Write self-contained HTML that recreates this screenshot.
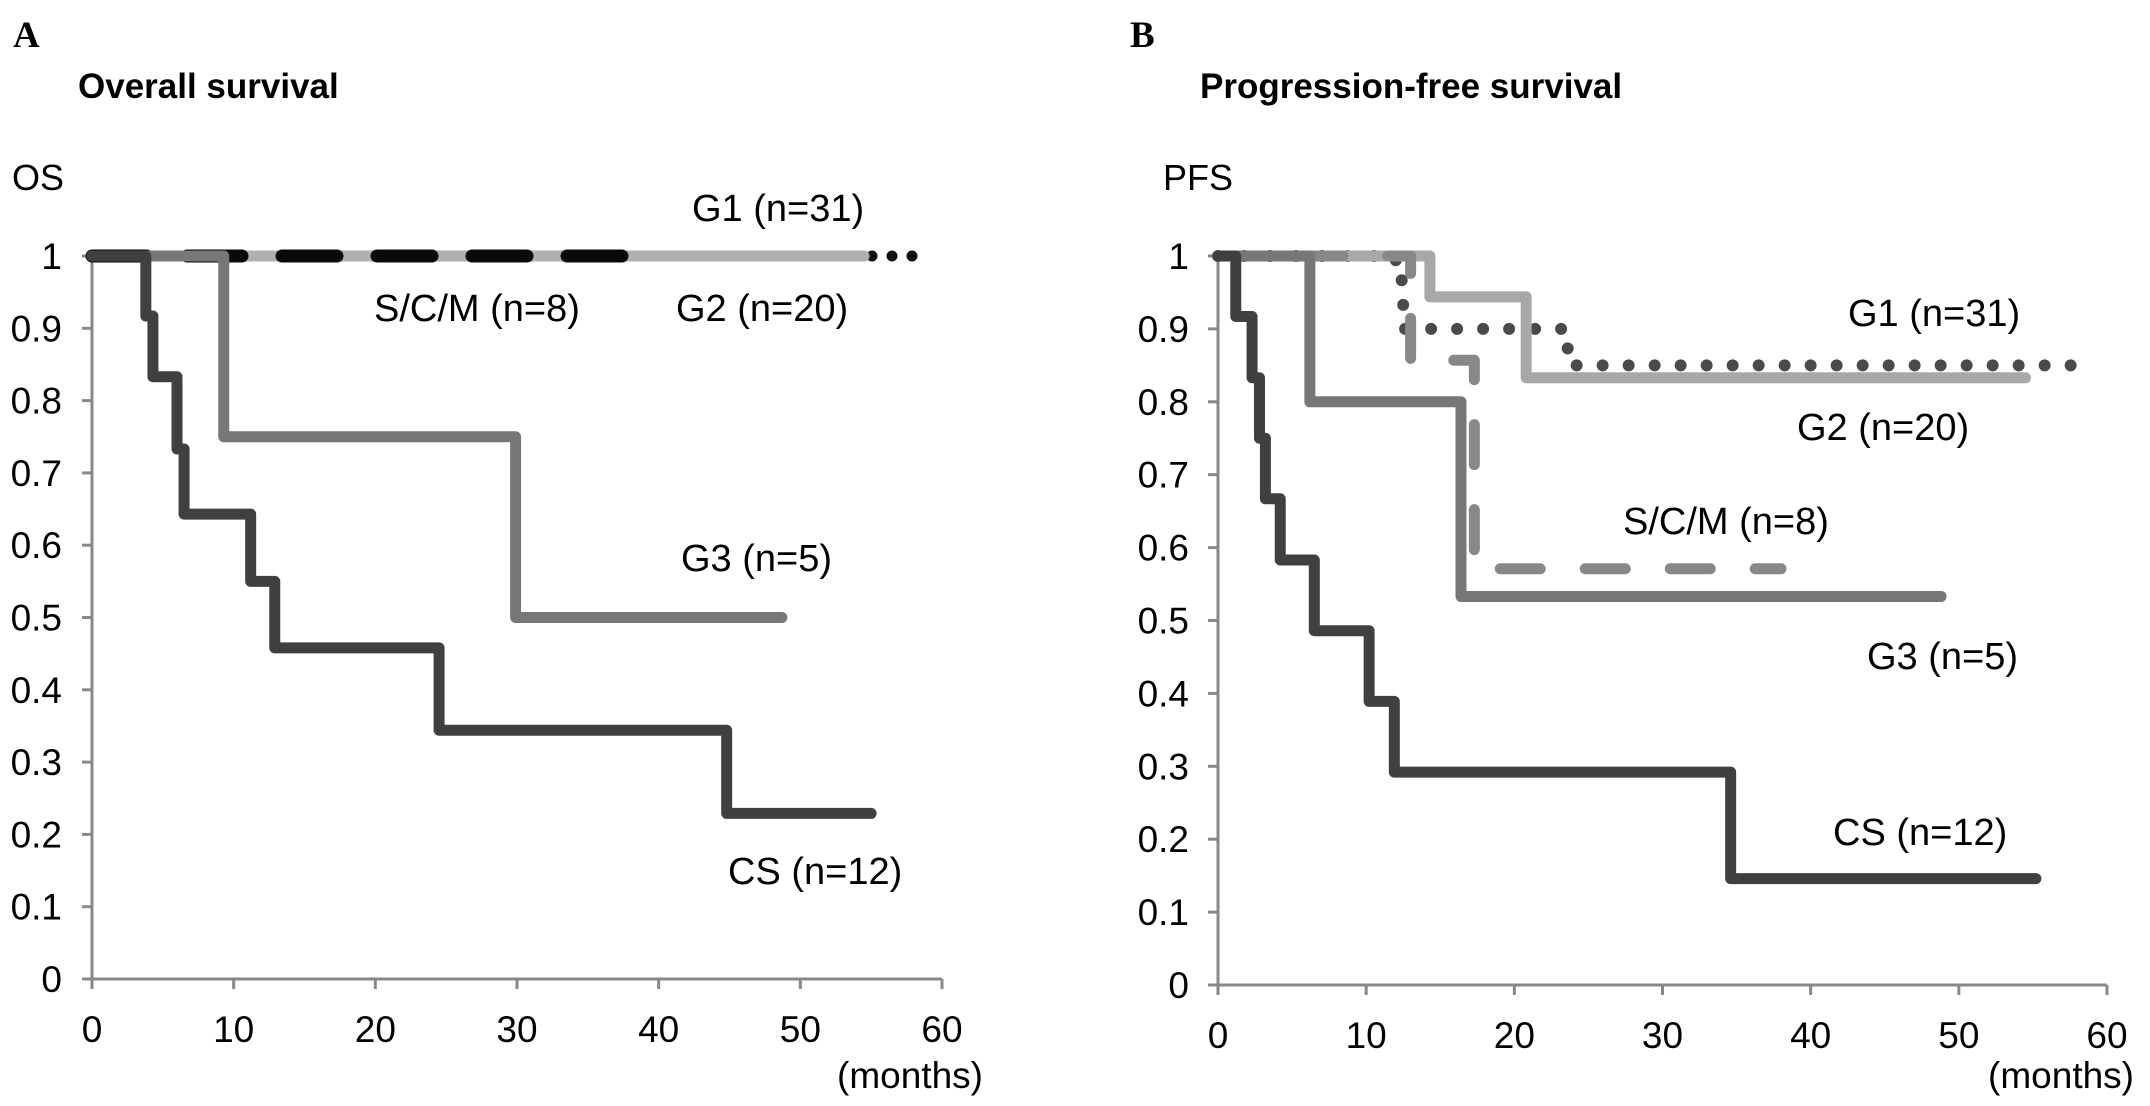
<!DOCTYPE html>
<html><head><meta charset="utf-8">
<style>
html,body{margin:0;padding:0;background:#fff;}
svg{display:block;}
text{font-family:"Liberation Sans",Arial,sans-serif;fill:#000;}
</style></head>
<body>
<svg id="fig" width="2150" height="1106" viewBox="0 0 2150 1106" xmlns="http://www.w3.org/2000/svg">
<text x="13" y="47" style="font-family:'Liberation Serif',serif;font-weight:bold;font-size:37px">A</text>
<text x="78" y="98" style="font-weight:bold;font-size:35px">Overall survival</text>
<text x="12" y="190" style="font-size:36px">OS</text>
<text x="983" y="1088" text-anchor="end" style="font-size:37px">(months)</text>
<text x="1130" y="47" style="font-family:'Liberation Serif',serif;font-weight:bold;font-size:37px">B</text>
<text x="1200" y="98" style="font-weight:bold;font-size:35px">Progression-free survival</text>
<text x="1163" y="190" style="font-size:36px">PFS</text>
<text x="2134" y="1088" text-anchor="end" style="font-size:37px">(months)</text>
</svg>
<script>
// ---- data ----
const xTicks = [0,10,20,30,40,50,60];
const yTicks = [0,0.1,0.2,0.3,0.4,0.5,0.6,0.7,0.8,0.9,1];
const yTickLabels = ["0","0.1","0.2","0.3","0.4","0.5","0.6","0.7","0.8","0.9","1"];

// Overall survival (panel A)
const osCsTimes = [3.8,4.3,6.0,6.5,11.2,12.9,24.5,44.8];
const osCsVals  = [0.917,0.833,0.733,0.643,0.55,0.458,0.344,0.229];
const osCsEnd = 55;
const osG3Times = [9.3,29.9];
const osG3Vals  = [0.75,0.5];
const osG3End = 48.7;
const osG2Times = [];
const osG2Vals = [];
const osG2End = 54.5;
const osScmTimes = [];
const osScmVals = [];
const osScmEnd = 38;
const osG1Times = [];
const osG1Vals = [];
const osG1End = 58;

// Progression-free survival (panel B)
const pfsCsTimes = [1.2,2.3,2.8,3.2,4.2,6.5,10.2,11.9,34.6];
const pfsCsVals  = [0.917,0.833,0.75,0.667,0.583,0.486,0.389,0.292,0.146];
const pfsCsEnd = 55.2;
const pfsG3Times = [6.2,16.4];
const pfsG3Vals  = [0.8,0.533];
const pfsG3End = 48.8;
const pfsScmTimes = [13.0,17.3];
const pfsScmVals  = [0.857,0.571];
const pfsScmEnd = 38;
const pfsG2Times = [14.3,20.8];
const pfsG2Vals  = [0.944,0.833];
const pfsG2End = 54.5;
const pfsG1Times = [12.0,12.4,12.6,23.6];
const pfsG1Vals  = [0.967,0.933,0.9,0.85];
const pfsG1End = 58;

const svg = document.getElementById('fig');
const NS = 'http://www.w3.org/2000/svg';

function makePanel(id, x0, x60, y0, y1, labelRight) {
  const xs = v => x0 + (x60 - x0) * v / 60;
  const ys = v => y0 - (y0 - y1) * v;
  const g = document.createElementNS(NS,'g');
  
  
  svg.appendChild(g);
  const ax = document.createElementNS(NS,'path');
  ax.setAttribute('d', `M${x0} ${y1} L${x0} ${y0} L${x60} ${y0}`);
  ax.setAttribute('stroke','#888'); ax.setAttribute('stroke-width','3'); ax.setAttribute('fill','none');
  
  
  g.appendChild(ax);
  xTicks.forEach(t => {
    const l = document.createElementNS(NS,'line');
    l.setAttribute('x1', xs(t)); l.setAttribute('x2', xs(t));
    l.setAttribute('y1', y0); l.setAttribute('y2', y0 + 10);
    l.setAttribute('stroke','#888'); l.setAttribute('stroke-width','3');
    
    
    g.appendChild(l);
    const tx = document.createElementNS(NS,'text');
    tx.setAttribute('x', xs(t)); tx.setAttribute('y', y0 + 63);
    tx.setAttribute('text-anchor','middle'); tx.setAttribute('font-size','37');
    tx.textContent = t;
    
    
    g.appendChild(tx);
  });
  yTicks.forEach((t,i) => {
    const l = document.createElementNS(NS,'line');
    l.setAttribute('x1', x0 - 10); l.setAttribute('x2', x0);
    l.setAttribute('y1', ys(t)); l.setAttribute('y2', ys(t));
    l.setAttribute('stroke','#888'); l.setAttribute('stroke-width','3');
    
    
    g.appendChild(l);
    const tx = document.createElementNS(NS,'text');
    tx.setAttribute('x', labelRight); tx.setAttribute('y', ys(t) + 13);
    tx.setAttribute('text-anchor','end'); tx.setAttribute('font-size','37');
    tx.textContent = yTickLabels[i];
    
    
    g.appendChild(tx);
  });
  return {xs, ys};
}

function stepPath(sc, times, vals, end) {
  let s = 1;
  let d = `M${sc.xs(0)} ${sc.ys(1)}`;
  times.forEach((t,i) => {
    d += ` L${sc.xs(t)} ${sc.ys(s)} L${sc.xs(t)} ${sc.ys(vals[i])}`;
    s = vals[i];
  });
  d += ` L${sc.xs(end)} ${sc.ys(s)}`;
  return d;
}

function drawCurve(sc, name, times, vals, end, color, dash, width) {
  const p = document.createElementNS(NS,'path');
  p.setAttribute('d', stepPath(sc, times, vals, end));
  p.setAttribute('fill','none');
  p.setAttribute('stroke', color);
  p.setAttribute('stroke-width', width || '11');
  p.setAttribute('stroke-linecap', 'round');
  p.setAttribute('stroke-linejoin','round');
  if (dash) p.setAttribute('stroke-dasharray', dash);
  
  
  svg.appendChild(p);
}

function label(x, y, txt, name) {
  const t = document.createElementNS(NS,'text');
  t.setAttribute('x', x); t.setAttribute('y', y); t.setAttribute('font-size','38');
  t.textContent = txt;
  
  
  svg.appendChild(t);
}

// Panel A
const A = makePanel('os', 92, 942, 979, 256, 62);
drawCurve(A, 'os-g1-curve', osG1Times, osG1Vals, osG1End, '#111', '0 20');
drawCurve(A, 'os-g2-curve', osG2Times, osG2Vals, osG2End, '#b0b0b0');
drawCurve(A, 'os-scm-curve', osScmTimes, osScmVals, osScmEnd, '#0a0a0a', '55 40', '13');
drawCurve(A, 'os-g3-curve', osG3Times, osG3Vals, osG3End, '#777');
drawCurve(A, 'os-cs-curve', osCsTimes, osCsVals, osCsEnd, '#404040');
label(692, 221, 'G1 (n=31)', 'os-g1-label');
label(374, 321, 'S/C/M (n=8)', 'os-scm-label');
label(676, 321, 'G2 (n=20)', 'os-g2-label');
label(681, 571, 'G3 (n=5)', 'os-g3-label');
label(728, 884, 'CS (n=12)', 'os-cs-label');

// Panel B
const B = makePanel('pfs', 1218, 2107, 985, 256, 1189);
drawCurve(B, 'pfs-g1-curve', pfsG1Times, pfsG1Vals, pfsG1End, '#4a4a4a', '0 26', '12');
drawCurve(B, 'pfs-g2-curve', pfsG2Times, pfsG2Vals, pfsG2End, '#a8a8a8');
drawCurve(B, 'pfs-scm-curve', pfsScmTimes, pfsScmVals, pfsScmEnd, '#888', '40 45');
drawCurve(B, 'pfs-g3-curve', pfsG3Times, pfsG3Vals, pfsG3End, '#777');
drawCurve(B, 'pfs-cs-curve', pfsCsTimes, pfsCsVals, pfsCsEnd, '#404040');
label(1848, 326, 'G1 (n=31)', 'pfs-g1-label');
label(1797, 440, 'G2 (n=20)', 'pfs-g2-label');
label(1623, 534, 'S/C/M (n=8)', 'pfs-scm-label');
label(1867, 669, 'G3 (n=5)', 'pfs-g3-label');
label(1833, 845, 'CS (n=12)', 'pfs-cs-label');
</script>
</body></html>
